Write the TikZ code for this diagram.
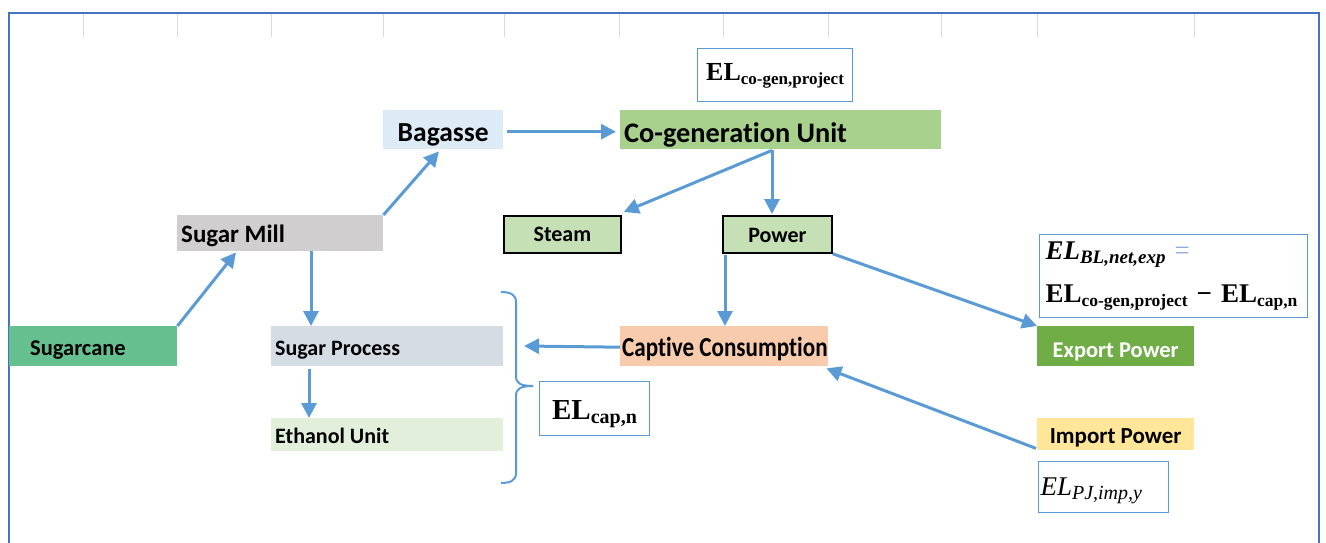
\documentclass[tikz,border=0pt]{standalone}
\usepackage{fontspec}
\setmainfont{Carlito}[Ligatures=NoCommon,RawFeature={-calt;-clig;-liga;-dlig}]
\newfontfamily\narrowfont{Carlito}[FakeStretch=0.84,Ligatures=NoCommon,RawFeature={-calt;-clig;-liga;-dlig}]
\newfontfamily\tnr{Liberation Serif}
\usetikzlibrary{arrows.meta}
\definecolor{framecol}{HTML}{4472C4}
\definecolor{arrowcol}{HTML}{5B9BD5}
\definecolor{fboxcol}{HTML}{5B9BD5}
\definecolor{gridcol}{HTML}{D9D9D9}
\definecolor{eqcol}{HTML}{8FAADC}
\definecolor{cBagasse}{HTML}{DDEBF7}
\definecolor{cCogen}{HTML}{A9D18E}
\definecolor{cMill}{HTML}{D0CECE}
\definecolor{cSteam}{HTML}{C5E0B4}
\definecolor{cCane}{HTML}{66BF8F}
\definecolor{cProc}{HTML}{D6DCE4}
\definecolor{cEth}{HTML}{E2EFDA}
\definecolor{cCapt}{HTML}{F8CBAD}
\definecolor{cExp}{HTML}{70AD47}
\definecolor{cImp}{HTML}{FFE699}
\newcommand{\lowsub}[2]{\raisebox{-4pt}{\fontsize{#1}{#1}\selectfont #2}}
\begin{document}
\begin{tikzpicture}[x=1pt,y=-1pt,
  box/.style={rectangle, inner ysep=0pt, inner xsep=0pt, anchor=north west,
    font=\bfseries\fontsize{22}{24}\selectfont},
  sz/.style 2 args={minimum width=#1, minimum height=#2},
  bl/.style 2 args={text height=#1, text depth=#2},
  lefttext/.style 2 args={text width=#1, inner xsep=#2, align=left,
    execute at begin node={\spaceskip=0pt\xspaceskip=0pt}},
  fbox/.style={rectangle, draw=fboxcol, line width=1.1pt, anchor=north west, inner sep=0pt},
  arr/.style={draw=arrowcol, line width=3pt, -{Triangle[length=15pt,width=15pt]}},
  gridline/.style={draw=gridcol, line width=1pt}
]
\useasboundingbox (0,0) rectangle (1326,543);
% spreadsheet grid stubs
\foreach \gx in {83,177,271,383,504,619,723,828,941,1037,1194}
  \draw[gridline] (\gx,13) -- (\gx,37);
% frame
\draw[framecol, line width=2pt] (9,543) -- (9,13) -- (1319,13) -- (1319,543);

% boxes
\node[box, sz={120}{39}, bl={31pt}{8pt}, fill=cBagasse, font=\bfseries\fontsize{27.5}{30}\selectfont] (bagasse) at (383,110) {Bagasse};
\node[box, sz={321}{39}, bl={32pt}{7pt}, lefttext={313}{4}, fill=cCogen, font=\bfseries\fontsize{28.3}{30}\selectfont] (cogen) at (620,110) {\mbox{Co-generation Unit}};
\node[box, sz={206}{36}, bl={27pt}{9pt}, lefttext={198}{4}, fill=cMill, font=\bfseries\fontsize{25}{28}\selectfont] (mill) at (177,215) {\mbox{Sugar Mill}};
\node[box, sz={117}{37}, bl={26pt}{11pt}, fill=cSteam, draw=black, line width=1.8pt] (steam) at (503,215) {Steam};
\node[box, sz={109}{37}, bl={27pt}{10pt}, fill=cSteam, draw=black, line width=1.8pt] (power) at (722,215) {Power};
\node[box, sz={168}{40}, bl={29pt}{11pt}, lefttext={126}{21}, fill=cCane, font=\bfseries\fontsize{22.5}{24}\selectfont] (cane) at (9,326) {\mbox{Sugarcane}};
\node[box, sz={232}{40}, bl={29pt}{11pt}, lefttext={224}{4}, fill=cProc] (proc) at (271,326) {\mbox{Sugar Process}};
\node[box, sz={232}{33}, bl={25pt}{8pt}, lefttext={224}{4}, fill=cEth] (eth) at (271,418) {\mbox{Ethanol Unit}};
\node[box, sz={208}{40}, bl={30pt}{10pt}, lefttext={204}{2}, fill=cCapt, font=\narrowfont\bfseries\fontsize{27.5}{30}\selectfont] (capt) at (620,326) {\mbox{Captive Consumption}};
\node[box, sz={157}{40}, bl={31pt}{9pt}, fill=cExp, text=white, font=\bfseries\fontsize{22.5}{24}\selectfont] (export) at (1037,326) {Export Power};
\node[box, sz={157}{32}, bl={25pt}{7pt}, fill=cImp, font=\bfseries\fontsize{23}{24}\selectfont] (import) at (1037,418) {Import Power};

% formula boxes
\node[fbox, sz={155}{53}, bl={32pt}{21pt}] (elcogen) at (697,48)
  {\tnr\bfseries\fontsize{26}{30}\selectfont EL\lowsub{17}{co-gen,project}};
\node[fbox, sz={268}{83}, text width=256, inner xsep=6pt, align=left,
  font=\tnr\fontsize{27}{43}\selectfont] (elbl) at (1039,234)
  {{\bfseries\itshape EL\lowsub{19}{BL,net,exp}} \textcolor{eqcol}{=}\\
   {\bfseries EL\lowsub{17.5}{co-gen,project} − EL\lowsub{17.5}{cap,n}}};
\node[fbox, sz={110}{54}, bl={38pt}{16pt}] (elcap) at (539,381)
  {\tnr\bfseries\fontsize{29}{32}\selectfont EL\lowsub{20}{cap,n}};
\node[fbox, sz={130}{51}, bl={34pt}{17pt}, text width=126, inner xsep=2pt, align=left] (elpj) at (1038,461)
  {\tnr\itshape\fontsize{27}{30}\selectfont EL\lowsub{20}{PJ,imp,y}};

% brace
\draw[arrowcol, line width=2pt] (501,292) .. controls (511,292) and (516,295) .. (516,302)
  -- (516,376) .. controls (516,383) and (520,386) .. (533,386)
  .. controls (520,386) and (516,389) .. (516,396)
  -- (516,473) .. controls (516,480) and (511,483) .. (501,483);
\coordinate (bracetip) at (524,346);

% connectors
\draw[arr] (cane.north east) -- ([xshift=59pt,yshift=-1pt]mill.south west);
\draw[arr] (mill.north east) -- ([xshift=56pt,yshift=-2pt]bagasse.south west);
\draw[arr] ([xshift=4pt,yshift=-2pt]bagasse.east) -- ([xshift=-4pt,yshift=-2pt]cogen.west);
\draw[arr] ([xshift=152pt,yshift=-1pt]cogen.south west) -- ([xshift=2pt,yshift=3pt]steam.north east);
\draw[arr] ([xshift=152pt,yshift=-1pt]cogen.south west) -- ([xshift=50pt,yshift=1pt]power.north west);
\draw[arr] ([xshift=134pt]mill.south west) -- ([xshift=40pt]proc.north west);
\draw[arr] ([xshift=38pt,yshift=-3pt]proc.south west) -- ([xshift=38pt]eth.north west);
\draw[arr] ([xshift=3pt,yshift=-1pt]power.south west) -- ([xshift=105pt]capt.north west);
\draw[arr] (power.south east) -- (export.north west);
\draw[arr] ([yshift=-1pt]capt.west) -- (bracetip);
\draw[arr] ([xshift=-1pt,yshift=2pt]import.south west) -- ([xshift=-2pt,yshift=-2pt]capt.south east);
\end{tikzpicture}
\end{document}
